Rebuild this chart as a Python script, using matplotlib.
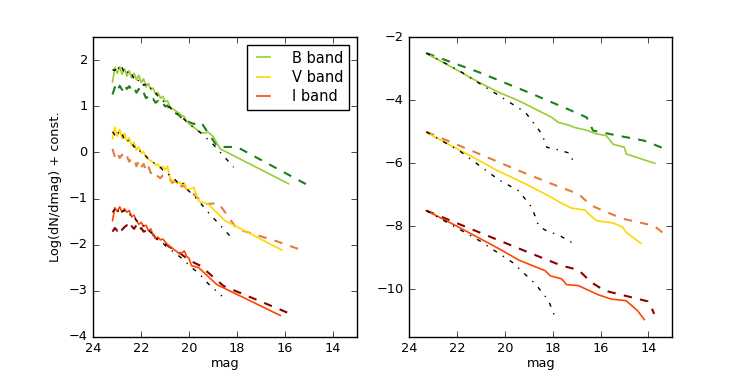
import matplotlib
matplotlib.use('Agg')
import matplotlib.pyplot as plt

# ======== Data ========
# left panel: fine-binned part shared by all curves
mag_fine = [23.2, 23.1, 23.0, 22.9, 22.8, 22.7, 22.6, 22.5, 22.4, 22.3, 22.2,
            22.1, 22.0, 21.9, 21.8, 21.7, 21.6, 21.5, 21.4, 21.3, 21.2, 21.1,
            21.0, 20.9, 20.8, 20.7, 20.6, 20.5, 20.4, 20.3, 20.2, 20.1, 20.0]

b_obs = [1.53, 1.85, 1.72, 1.86, 1.70, 1.82, 1.66, 1.78, 1.62, 1.72, 1.58,
         1.68, 1.52, 1.60, 1.42, 1.50, 1.36, 1.40, 1.26, 1.30, 1.18, 1.22,
         1.10, 1.12, 1.00, 0.95, 0.92, 0.88, 0.85, 0.80, 0.78, 0.68, 0.62]
b_obs_tail_mag = [19.8, 19.6, 19.4, 19.2, 19.0, 18.7, 15.84]
b_obs_tail = [0.55, 0.46, 0.42, 0.44, 0.35, 0.08, -0.68]

b_mod = [1.26, 1.42, 1.32, 1.45, 1.36, 1.48, 1.38, 1.44, 1.34, 1.40, 1.30,
         1.38, 1.26, 1.30, 1.18, 1.22, 1.12, 1.16, 1.08, 1.12, 1.04, 1.08,
         1.00, 1.02, 0.92, 0.90, 0.86, 0.84, 0.80, 0.74, 0.76, 0.68, 0.66]
b_mod_tail_mag = [19.8, 19.5, 19.2, 18.8, 18.0, 15.0]
b_mod_tail = [0.62, 0.66, 0.42, 0.12, 0.12, -0.72]

b_fit = [1.80, 1.78, 1.90, 1.76, 1.84, 1.72, 1.78, 1.66, 1.70, 1.60, 1.64,
         1.54, 1.56, 1.46, 1.48, 1.38, 1.40, 1.30, 1.30, 1.22, 1.20, 1.12,
         1.10, 1.02, 0.98, 0.92, 0.90, 0.84, 0.82, 0.76, 0.72, 0.66, 0.62]
b_fit_tail_mag = [19.5, 19.0, 18.6, 18.14]
b_fit_tail = [0.42, 0.18, -0.05, -0.32]

v_obs = [0.30, 0.55, 0.35, 0.50, 0.30, 0.42, 0.25, 0.32, 0.15, 0.22, 0.05,
         0.12, -0.02, 0.02, -0.10, -0.15, -0.18, -0.22, -0.28, -0.25, -0.35, -0.30,
         -0.38, -0.30, -0.55, -0.62, -0.60, -0.68, -0.65, -0.70, -0.66, -0.80, -0.80]
v_obs_tail_mag = [19.8, 19.6, 19.2, 18.5, 16.12]
v_obs_tail = [-0.76, -1.06, -1.12, -1.48, -2.12]

v_mod = [0.08, -0.10, 0.00, -0.12, -0.05, -0.15, -0.08, -0.20, -0.12, -0.14, -0.30,
         -0.18, -0.32, -0.25, -0.40, -0.30, -0.45, -0.40, -0.48, -0.52, -0.56, -0.50,
         -0.55, -0.60, -0.58, -0.66, -0.62, -0.72, -0.70, -0.74, -0.72, -0.80, -0.82]
v_mod_tail_mag = [19.6, 19.26, 18.77, 18.0, 16.33, 15.14]
v_mod_tail = [-1.00, -1.12, -1.10, -1.66, -1.93, -2.15]

v_fit = [0.45, 0.38, 0.48, 0.35, 0.40, 0.28, 0.32, 0.20, 0.22, 0.12, 0.12,
         0.02, 0.04, -0.05, -0.08, -0.14, -0.16, -0.22, -0.24, -0.30, -0.32, -0.38,
         -0.40, -0.46, -0.50, -0.55, -0.58, -0.64, -0.66, -0.62, -0.74, -0.80, -0.84]
v_fit_tail_mag = [19.6, 19.2, 18.7, 18.21]
v_fit_tail = [-1.05, -1.30, -1.58, -1.86]

i_obs = [-1.48, -1.20, -1.28, -1.18, -1.30, -1.22, -1.30, -1.26, -1.40, -1.36, -1.48,
         -1.56, -1.52, -1.60, -1.58, -1.70, -1.66, -1.80, -1.86, -1.84, -1.90, -1.88,
         -1.94, -2.00, -2.04, -2.08, -2.12, -2.16, -2.20, -2.18, -2.14, -2.26, -2.30]
i_obs_tail_mag = [19.9, 19.6, 18.84, 16.19]
i_obs_tail = [-2.46, -2.50, -2.87, -3.54]

i_mod = [-1.72, -1.64, -1.70, -1.60, -1.68, -1.62, -1.58, -1.68, -1.60, -1.66, -1.58,
         -1.70, -1.64, -1.72, -1.70, -1.76, -1.80, -1.78, -1.86, -1.90, -1.92, -1.96,
         -1.98, -2.02, -2.06, -2.08, -2.12, -2.14, -2.18, -2.22, -2.26, -2.30, -2.34]
i_mod_tail_mag = [19.53, 18.56, 15.7]
i_mod_tail = [-2.46, -2.90, -3.52]

i_fit = [-1.30, -1.22, -1.32, -1.20, -1.28, -1.26, -1.34, -1.32, -1.42, -1.40, -1.48,
         -1.50, -1.58, -1.60, -1.66, -1.68, -1.74, -1.78, -1.84, -1.88, -1.94, -1.96,
         -2.02, -2.06, -2.10, -2.14, -2.18, -2.22, -2.26, -2.30, -2.36, -2.40, -2.46]
i_fit_tail_mag = [19.6, 19.2, 18.63]
i_fit_tail = [-2.62, -2.85, -3.12]

# right panel
rb_obs_mag = [23.28, 22.45, 21.07, 20.24, 19.42, 18.04, 17.76, 17.35, 17.08, 16.52,
              16.24, 15.76, 15.48, 15.0, 14.93, 13.73]
rb_obs = [-2.51, -2.85, -3.43, -3.75, -4.01, -4.54, -4.70, -4.78, -4.86, -4.96,
          -5.05, -5.12, -5.39, -5.49, -5.70, -6.0]
rb_mod_mag = [23.28, 21.07, 19.0, 17.48, 16.58, 16.31, 15.27, 14.17, 13.37]
rb_mod = [-2.5, -3.11, -3.75, -4.24, -4.54, -4.96, -5.12, -5.28, -5.52]
rb_fit_mag = [23.28, 21.9, 20.24, 19.14, 18.45, 18.24, 17.76, 17.28, 17.2, 17.14]
rb_fit = [-2.5, -3.06, -3.85, -4.38, -5.07, -5.49, -5.57, -5.68, -5.81, -6.0]

rv_obs_mag = [23.28, 21.07, 20.31, 19.14, 18.17, 17.69, 17.21, 16.65, 16.49, 16.17,
              15.48, 15.07, 14.93, 14.31]
rv_obs = [-5.02, -5.91, -6.23, -6.65, -7.03, -7.24, -7.42, -7.48, -7.61, -7.82,
          -7.89, -8.03, -8.19, -8.54]
rv_mod_mag = [23.28, 21.07, 19.42, 18.04, 16.93, 16.38, 15.55, 15.0, 13.76, 13.37]
rv_mod = [-5.0, -5.70, -6.23, -6.65, -6.97, -7.34, -7.61, -7.77, -7.98, -8.22]
rv_fit_mag = [23.28, 21.9, 20.24, 19.42, 18.87, 18.59, 18.31, 17.69, 17.21]
rv_fit = [-5.0, -5.6, -6.53, -6.87, -7.4, -7.98, -8.12, -8.30, -8.51]

ri_obs_mag = [23.28, 22.04, 20.1, 19.42, 18.31, 18.1, 17.62, 17.42, 16.93, 16.1,
              15.55, 14.93, 14.45, 14.17]
ri_obs = [-7.5, -7.98, -8.77, -9.07, -9.41, -9.57, -9.67, -9.85, -9.88, -10.17,
          -10.31, -10.36, -10.68, -10.96]
ri_mod_mag = [23.28, 21.07, 19.0, 17.62, 16.93, 16.38, 15.83, 14.72, 14.03, 13.9, 13.76]
ri_mod = [-7.5, -8.19, -8.83, -9.25, -9.38, -9.78, -10.04, -10.25, -10.38, -10.52, -10.78]
ri_fit_mag = [23.28, 21.07, 19.69, 18.72, 18.17, 17.9]
ri_fit = [-7.5, -8.45, -9.14, -9.83, -10.36, -10.89]

C_B, C_BD = '#9acd32', '#1a801a'
C_V, C_VD = '#ffd700', '#e27d3c'
C_I, C_ID = '#ff4500', '#8b0000'
LW_D = 1.5  # dashed model curves

# ======== Figure ========
plt.style.use('classic')
plt.rcParams['font.size'] = 9.3
plt.rcParams['lines.linewidth'] = 1.2

fig, (ax1, ax2) = plt.subplots(1, 2, figsize=(7.47, 3.74), dpi=100)
fig.patch.set_facecolor('white')

# left panel
ax1.plot(mag_fine + b_mod_tail_mag, b_mod + b_mod_tail, '--', lw=LW_D, color=C_BD)
ax1.plot(mag_fine + v_mod_tail_mag, v_mod + v_mod_tail, '--', lw=LW_D, color=C_VD)
ax1.plot(mag_fine + i_mod_tail_mag, i_mod + i_mod_tail, '--', lw=LW_D, color=C_ID)
ax1.plot(mag_fine + b_obs_tail_mag, b_obs + b_obs_tail, '-', color=C_B, label='B band')
ax1.plot(mag_fine + v_obs_tail_mag, v_obs + v_obs_tail, '-', color=C_V, label='V band')
ax1.plot(mag_fine + i_obs_tail_mag, i_obs + i_obs_tail, '-', color=C_I, label='I band')
ax1.plot(mag_fine + b_fit_tail_mag, b_fit + b_fit_tail, 'k-.', lw=1)
ax1.plot(mag_fine + v_fit_tail_mag, v_fit + v_fit_tail, 'k-.', lw=1)
ax1.plot(mag_fine + i_fit_tail_mag, i_fit + i_fit_tail, 'k-.', lw=1)

ax1.set_xlim(24, 13)
ax1.set_ylim(-4, 2.5)
ax1.set_xticks([24, 22, 20, 18, 16, 14])
ax1.set_xlabel('mag', labelpad=1)
ax1.set_ylabel('Log(dN/dmag) + const.')
ax1.legend(loc='upper right', fontsize=10.5, handlelength=1.5,
           handletextpad=1.2, labelspacing=0.3, borderpad=0.4)

# right panel
ax2.plot(rb_mod_mag, rb_mod, '--', lw=LW_D, color=C_BD)
ax2.plot(rv_mod_mag, rv_mod, '--', lw=LW_D, color=C_VD)
ax2.plot(ri_mod_mag, ri_mod, '--', lw=LW_D, color=C_ID)
ax2.plot(rb_obs_mag, rb_obs, '-', color=C_B)
ax2.plot(rv_obs_mag, rv_obs, '-', color=C_V)
ax2.plot(ri_obs_mag, ri_obs, '-', color=C_I)
ax2.plot(rb_fit_mag, rb_fit, 'k-.', lw=1)
ax2.plot(rv_fit_mag, rv_fit, 'k-.', lw=1)
ax2.plot(ri_fit_mag, ri_fit, 'k-.', lw=1)

ax2.set_xlim(24, 13)
ax2.set_ylim(-11.5, -2)
ax2.set_xticks([24, 22, 20, 18, 16, 14])
ax2.set_yticks([-10, -8, -6, -4, -2])
ax2.set_xlabel('mag', labelpad=1)

fig.savefig('out.png', dpi=100, facecolor='white')
